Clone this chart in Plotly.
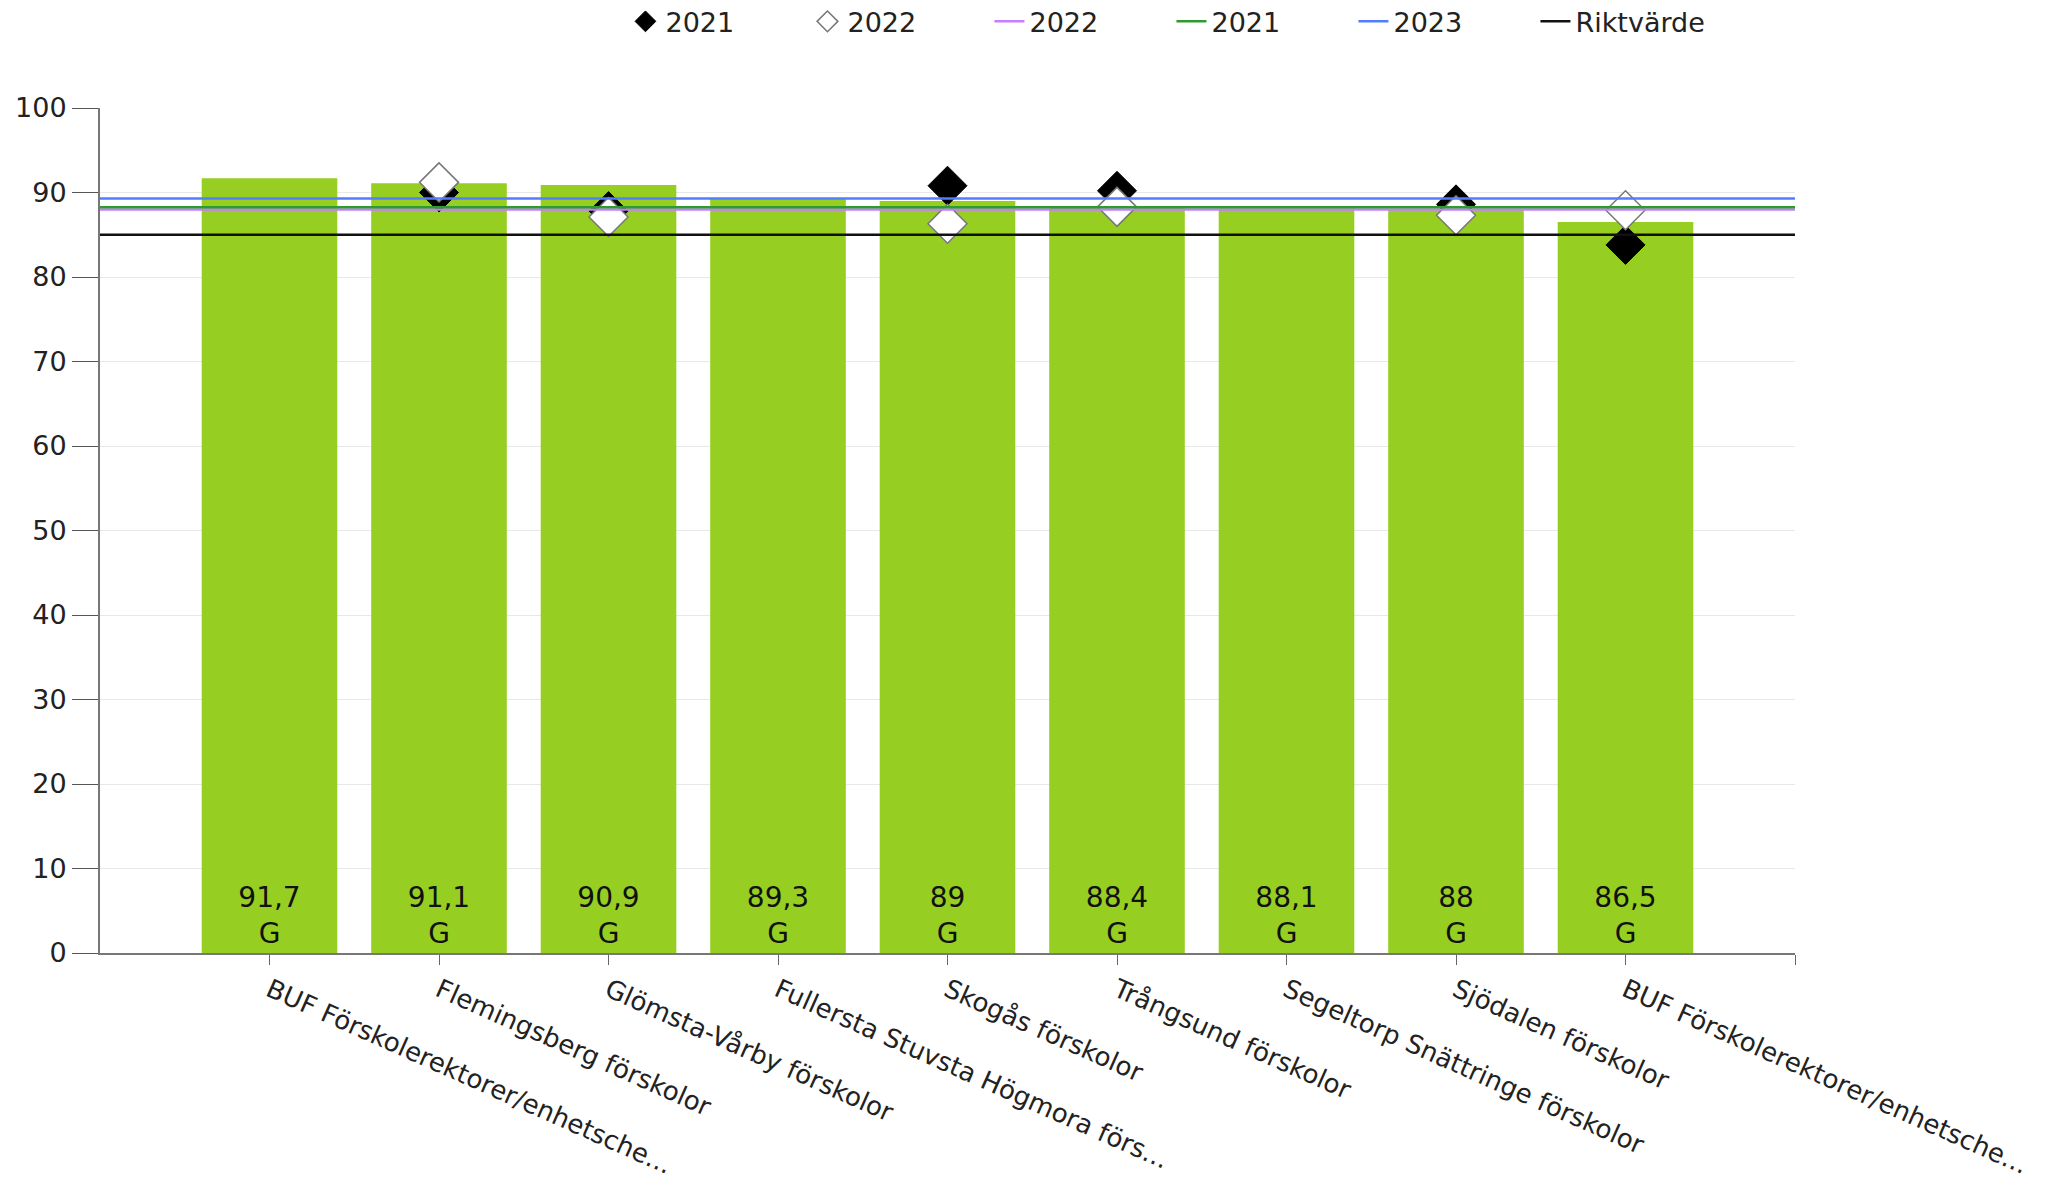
import plotly.graph_objects as go

categories = [
    "BUF Förskolerektorer/enhetsche...",
    "Flemingsberg förskolor",
    "Glömsta-Vårby förskolor",
    "Fullersta Stuvsta Högmora förs...",
    "Skogås förskolor",
    "Trångsund förskolor",
    "Segeltorp Snättringe förskolor",
    "Sjödalen förskolor",
    "BUF Förskolerektorer/enhetsche...",
]
values_2023 = [91.7, 91.1, 90.9, 89.3, 89.0, 88.4, 88.1, 88.0, 86.5]
grades = ["G", "G", "G", "G", "G", "G", "G", "G", "G"]
points_2021 = [None, 90.0, 87.8, None, 90.8, 90.2, None, 88.6, 83.8]
points_2022 = [None, 91.2, 87.1, None, 86.3, 88.3, None, 87.3, 87.9]

line_names = ["2022", "2021", "2023", "Riktvärde"]
line_values = [88.0, 88.25, 89.3, 85.0]
line_colors = ["#C77DFF", "#2E9B2E", "#4F7FFF", "#111111"]

FONT = "DejaVu Sans"
n = len(categories)
xs = list(range(n))


def fmt(v):
    s = f"{v:g}"
    return s.replace(".", ",")


labels = [f"{fmt(v)}<br>{g}" for v, g in zip(values_2023, grades)]

fig = go.Figure()
fig.add_trace(go.Bar(
    x=xs, y=values_2023, width=0.8,
    marker=dict(color="#97CE22", line=dict(width=0)),
    text=labels, textposition="inside", insidetextanchor="start",
    insidetextfont=dict(family=FONT, size=28, color="#111111"),
    textangle=0, showlegend=False, hoverinfo="skip",
))
fig.add_trace(go.Scatter(
    x=xs, y=points_2021, mode="markers", name="2021",
    marker=dict(symbol="diamond", size=30, color="black",
                line=dict(color="black", width=1)),
))
fig.add_trace(go.Scatter(
    x=xs, y=points_2022, mode="markers", name="2022",
    marker=dict(symbol="diamond", size=30, color="white",
                line=dict(color="#777777", width=1.5)),
))
x_span = [-1, n]
for name, val, col in zip(line_names, line_values, line_colors):
    fig.add_trace(go.Scatter(
        x=x_span, y=[val, val], mode="lines", name=name,
        line=dict(color=col, width=2.5),
    ))

fig.update_layout(
    width=2047, height=1186,
    margin=dict(l=100, r=252, t=108, b=233, pad=0, autoexpand=False),
    paper_bgcolor="white", plot_bgcolor="white",
    font=dict(family=FONT, size=27, color="#222222"),
    bargap=0.2,
    legend=dict(
        orientation="h", x=0.31, xanchor="left", y=1.102, yanchor="middle",
        font=dict(family=FONT, size=27, color="#222222"),
        itemwidth=30,
        entrywidth=137, entrywidthmode="pixels",
        traceorder="normal",
    ),
    xaxis=dict(
        range=[-1, n], tickmode="array",
        tickvals=xs + [n], ticktext=categories + [""],
        tickangle=24, ticks="outside", ticklen=10, tickcolor="#666666",
        showline=True, linecolor="#777777", linewidth=2,
        showgrid=False, zeroline=False, automargin=False,
        ticklabeloverflow="allow",
        tickfont=dict(family=FONT, size=26, color="#222222"),
    ),
    yaxis=dict(
        range=[0, 100], dtick=10, tick0=0,
        ticks="outside", ticklen=26, tickcolor="#555555",
        showline=True, linecolor="#777777", linewidth=2,
        showgrid=True, gridcolor="#E8E8E8", gridwidth=1,
        zeroline=False, automargin=False,
        tickfont=dict(family=FONT, size=27, color="#222222"),
    ),
)

fig.write_html(
    "out.html",
    config={"displayModeBar": False},
    post_script="document.body.style.margin='0';document.body.style.overflow='hidden';",
)
